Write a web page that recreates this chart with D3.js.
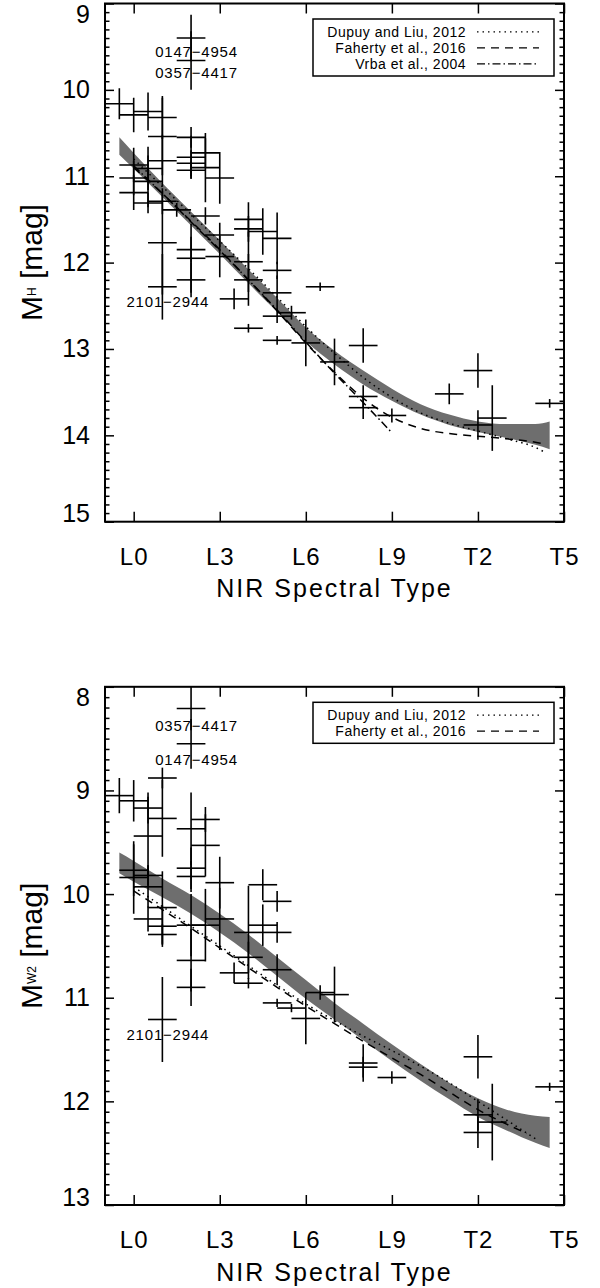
<!DOCTYPE html>
<html>
<head>
<meta charset="utf-8">
<script src="https://cdn.jsdelivr.net/npm/d3@7"></script>
<style>
  html, body { margin: 0; padding: 0; background: #fff; overflow: hidden; }
  svg { display: block; }
  text { font-family: "Liberation Sans", Arial, sans-serif; fill: #000; }
</style>
</head>
<body>
<svg id="chart" width="600" height="1288"></svg>
<script>
// spectral type axis: L0 = 0 ... T5 = 15
const sptTicks = [0, 3, 6, 9, 12, 15]
const sptTickLabels = ['L0', 'L3', 'L6', 'L9', 'T2', 'T5']

// ---- top panel: M_H ----
// [spt, mag, spt error, mag error]
const hPoints = [
  [2.0, 9.40, 0.5, 0.27], [2.0, 9.66, 0.5, 0.34],
  [-0.5, 10.16, 0.5, 0.18], [0.0, 10.29, 0.5, 0.20], [0.5, 10.25, 0.5, 0.22],
  [1.0, 10.32, 0.5, 0.25], [2.0, 10.55, 0.5, 0.12], [2.0, 10.78, 0.5, 0.25],
  [2.0, 10.85, 0.5, 0.15], [2.0, 10.93, 0.5, 0.10], [2.5, 10.73, 0.5, 0.17],
  [2.5, 10.90, 0.5, 0.40], [3.0, 11.02, 0.5, 0.30], [1.0, 10.54, 0.5, 0.45],
  [1.0, 10.82, 0.5, 0.30], [0.0, 10.87, 0.5, 0.20], [0.5, 10.91, 0.5, 0.25],
  [0.0, 11.02, 0.5, 0.20], [0.5, 11.06, 0.5, 0.30], [0.0, 11.19, 0.5, 0.20],
  [1.0, 11.29, 0.5, 0.15], [0.5, 11.31, 0.5, 0.12], [1.5, 11.39, 0.5, 0.08],
  [2.5, 11.46, 0.5, 0.10], [1.0, 11.77, 0.5, 0.60], [1.0, 12.28, 0.5, 0.38],
  [2.0, 11.85, 0.5, 0.15], [2.0, 11.95, 0.5, 0.40], [2.0, 12.20, 0.5, 0.20],
  [3.0, 11.68, 0.5, 0.14], [3.0, 11.93, 0.5, 0.24], [3.5, 12.42, 0.5, 0.12],
  [4.0, 12.76, 0.5, 0.05], [4.0, 11.50, 0.5, 0.20], [4.0, 11.61, 0.5, 0.15],
  [4.5, 11.64, 0.5, 0.27], [5.0, 11.72, 0.5, 0.30], [4.0, 11.99, 0.5, 0.35],
  [5.0, 12.09, 0.5, 0.10], [4.0, 12.20, 0.5, 0.30], [5.0, 12.35, 0.5, 0.20],
  [5.0, 12.62, 0.5, 0.08], [5.5, 12.58, 0.5, 0.08], [5.0, 12.90, 0.5, 0.05],
  [6.0, 12.93, 0.5, 0.27], [6.5, 12.28, 0.5, 0.05], [7.0, 13.15, 0.5, 0.27],
  [8.0, 12.96, 0.5, 0.20], [8.0, 13.55, 0.5, 0.13], [8.0, 13.68, 0.5, 0.13],
  [9.0, 13.77, 0.5, 0.08], [11.0, 13.52, 0.5, 0.12], [12.0, 13.25, 0.5, 0.20],
  [12.0, 13.88, 0.5, 0.17], [12.5, 13.80, 0.5, 0.38], [14.5, 13.63, 0.5, 0.05]
]
const hNames = [
  { name: '0147−4954', spt: 2.19, mag: 9.56 },
  { name: '0357−4417', spt: 2.19, mag: 9.80 },
  { name: '2101−2944', spt: 1.19, mag: 12.45 }
]
const fitSpt = [-0.5, 0, 1, 2, 3, 4, 5, 6, 7, 8, 9, 10, 11, 12, 13, 14, 14.5]
const hFitBright = [10.55, 10.73, 11.08, 11.41, 11.74, 12.08, 12.41, 12.75, 13.02, 13.25, 13.46, 13.64, 13.76, 13.84, 13.87, 13.87, 13.84]
const hFitFaint = [10.75, 10.91, 11.24, 11.57, 11.90, 12.24, 12.57, 12.91, 13.18, 13.41, 13.60, 13.76, 13.88, 13.96, 14.03, 14.11, 14.16]
const hDupuySpt = [0, 1, 2, 3, 4, 5, 6, 7, 8, 9, 10, 11, 12, 13, 14, 14.3]
const hDupuyMag = [10.80, 11.12, 11.44, 11.75, 12.07, 12.40, 12.74, 13.05, 13.33, 13.56, 13.74, 13.86, 13.95, 14.04, 14.14, 14.19]
const hFahertySpt = [0, 1, 2, 3, 4, 5, 6, 7, 8, 9, 10, 11, 12, 13, 14, 14.3]
const hFahertyMag = [10.90, 11.20, 11.52, 11.85, 12.20, 12.56, 12.93, 13.27, 13.57, 13.79, 13.92, 13.98, 14.01, 14.04, 14.08, 14.10]
const hVrbaSpt = [0, 1, 2, 3, 4, 5, 6, 7, 8, 9]
const hVrbaMag = [10.88, 11.20, 11.53, 11.86, 12.20, 12.55, 12.92, 13.28, 13.62, 13.97]

// ---- bottom panel: M_W2 ----
const w2Points = [
  [2.0, 8.21, 0.5, 0.21], [2.0, 8.55, 0.5, 0.24],
  [-0.5, 9.05, 0.5, 0.17], [0.0, 9.10, 0.5, 0.20], [0.5, 9.17, 0.5, 0.15],
  [1.0, 8.88, 0.5, 0.10], [1.0, 9.27, 0.5, 0.37], [0.5, 9.44, 0.5, 0.38],
  [2.0, 9.37, 0.5, 0.35], [2.5, 9.28, 0.5, 0.12], [2.5, 9.53, 0.5, 0.30],
  [2.0, 9.75, 0.5, 0.20], [2.0, 9.83, 0.5, 0.15], [3.0, 9.89, 0.5, 0.25],
  [3.0, 10.24, 0.5, 0.30], [2.5, 10.30, 0.5, 0.35], [0.0, 9.77, 0.5, 0.25],
  [0.0, 9.84, 0.5, 0.35], [0.5, 9.82, 0.5, 0.10], [0.5, 9.93, 0.5, 0.20],
  [0.5, 10.24, 0.5, 0.12], [1.0, 10.13, 0.5, 0.35], [1.0, 10.31, 0.5, 0.20],
  [1.0, 10.39, 0.5, 0.10], [2.0, 10.30, 0.5, 0.30], [4.0, 10.37, 0.5, 0.45],
  [4.5, 9.91, 0.5, 0.15], [5.0, 10.07, 0.5, 0.10], [4.5, 10.30, 0.5, 0.20],
  [5.0, 10.37, 0.5, 0.10], [1.0, 11.21, 0.5, 0.41], [2.0, 10.64, 0.5, 0.30],
  [2.0, 10.90, 0.5, 0.18], [3.5, 10.76, 0.5, 0.10], [4.0, 10.86, 0.5, 0.05],
  [4.0, 10.61, 0.5, 0.15], [5.0, 10.73, 0.5, 0.15], [5.0, 11.05, 0.5, 0.04],
  [5.5, 11.10, 0.5, 0.04], [6.0, 11.20, 0.5, 0.25], [6.5, 10.95, 0.5, 0.07],
  [7.0, 10.97, 0.5, 0.27], [8.0, 11.63, 0.5, 0.18], [8.0, 11.67, 0.5, 0.10],
  [9.0, 11.77, 0.5, 0.06], [12.0, 11.57, 0.5, 0.21], [12.0, 12.13, 0.5, 0.15],
  [12.0, 12.30, 0.5, 0.15], [12.5, 12.20, 0.5, 0.37], [14.5, 11.86, 0.5, 0.04]
]
const w2Names = [
  { name: '0357−4417', spt: 2.19, mag: 8.37 },
  { name: '0147−4954', spt: 2.19, mag: 8.70 },
  { name: '2101−2944', spt: 1.19, mag: 11.36 }
]
const w2FitBright = [9.60, 9.68, 9.85, 10.01, 10.19, 10.39, 10.61, 10.83, 11.05, 11.25, 11.45, 11.64, 11.82, 11.97, 12.08, 12.14, 12.15]
const w2FitFaint = [9.80, 9.88, 10.03, 10.19, 10.37, 10.57, 10.79, 11.01, 11.21, 11.41, 11.61, 11.80, 11.98, 12.15, 12.28, 12.40, 12.45]
const w2DupuySpt = [0, 1, 2, 3, 4, 5, 6, 7, 8, 9, 10, 11, 12, 13, 14]
const w2DupuyMag = [9.93, 10.12, 10.31, 10.50, 10.69, 10.88, 11.06, 11.22, 11.37, 11.51, 11.66, 11.82, 12.00, 12.18, 12.36]
const w2FahertySpt = [0, 1, 2, 3, 4, 5, 6, 7, 8, 9, 10, 11, 12, 13, 13.7]
const w2FahertyMag = [9.97, 10.15, 10.33, 10.52, 10.71, 10.90, 11.08, 11.25, 11.42, 11.58, 11.74, 11.91, 12.08, 12.22, 12.31]

// line styles
const dotted = '1.5,4'
const dashed = '8,6'
const dashDot = '8,3,1.5,3'

const svg = d3.select('#chart')

drawPanel({
  id: 'h',
  top: 3.5, bottom: 521.7, yDomain: [9, 15],
  points: hPoints, names: hNames,
  bright: hFitBright, faint: hFitFaint,
  curves: [
    { label: 'Dupuy and Liu, 2012', spt: hDupuySpt, mag: hDupuyMag, dash: dotted },
    { label: 'Faherty et al., 2016', spt: hFahertySpt, mag: hFahertyMag, dash: dashed },
    { label: 'Vrba et al., 2004', spt: hVrbaSpt, mag: hVrbaMag, dash: dashDot }
  ],
  sub: 'H'
})

drawPanel({
  id: 'w2',
  top: 686.8, bottom: 1205, yDomain: [8, 13],
  points: w2Points, names: w2Names,
  bright: w2FitBright, faint: w2FitFaint,
  curves: [
    { label: 'Dupuy and Liu, 2012', spt: w2DupuySpt, mag: w2DupuyMag, dash: dotted },
    { label: 'Faherty et al., 2016', spt: w2FahertySpt, mag: w2FahertyMag, dash: dashed }
  ],
  sub: 'W2'
})

function drawPanel(cfg) {
  const { id, top, bottom, yDomain, points, names, bright, faint, curves, sub } = cfg
  const left = 105
  const right = 564

  const x = d3.scaleLinear([-1, 15], [left, right])
  const y = d3.scaleLinear(yDomain, [top, bottom])

  const g = svg.append('g').attr('id', 'panel-' + id)

  // clip for data
  g.append('clipPath')
    .attr('id', 'clip-' + id)
    .append('rect')
    .attr('x', left).attr('y', top)
    .attr('width', right - left).attr('height', bottom - top)

  const plot = g.append('g').attr('clip-path', `url(#clip-${id})`)

  // fit with uncertainty band
  const area = d3.area()
    .x((d, i) => x(fitSpt[i]))
    .y0((d, i) => y(bright[i]))
    .y1((d, i) => y(faint[i]))
    .curve(d3.curveMonotoneX)
  plot.append('path')
    .datum(fitSpt)
    .attr('d', area)
    .attr('fill', '#6e6e6e')

  // literature relations
  curves.forEach((c) => {
    const line = d3.line()
      .x((d, i) => x(c.spt[i]))
      .y((d, i) => y(c.mag[i]))
      .curve(d3.curveMonotoneX)
    plot.append('path')
      .datum(c.spt)
      .attr('d', line)
      .attr('fill', 'none')
      .attr('stroke', '#000')
      .attr('stroke-width', 1.5)
      .attr('stroke-dasharray', c.dash)
  })

  // data points with error bars
  const crosses = plot.append('g')
    .attr('stroke', '#000')
    .attr('stroke-width', 1.6)
    .selectAll('g')
    .data(points)
    .join('g')
  crosses.append('line')
    .attr('x1', (d) => x(d[0] - d[2]))
    .attr('x2', (d) => x(d[0] + d[2]))
    .attr('y1', (d) => y(d[1]))
    .attr('y2', (d) => y(d[1]))
  crosses.append('line')
    .attr('x1', (d) => x(d[0]))
    .attr('x2', (d) => x(d[0]))
    .attr('y1', (d) => y(d[1] - d[3]))
    .attr('y2', (d) => y(d[1] + d[3]))

  // object names
  g.append('g')
    .selectAll('text')
    .data(names)
    .join('text')
    .attr('x', (d) => x(d.spt))
    .attr('y', (d) => y(d.mag))
    .attr('dy', '0.36em')
    .attr('text-anchor', 'middle')
    .style('font-size', '15px')
    .style('letter-spacing', '0.8px')
    .text((d) => d.name)

  // axes
  const yMajor = d3.range(yDomain[0], yDomain[1] + 0.001, 1)
  const yMinor = d3.range(yDomain[0] * 10, yDomain[1] * 10 + 0.1, 1)
    .map((v) => v / 10)
    .filter((v) => Math.abs(v - Math.round(v)) > 0.01)

  const axes = g.append('g').attr('stroke-width', 1.5)

  const yl = axes.append('g')
    .attr('transform', `translate(${left},0)`)
    .call(d3.axisLeft(y).tickValues(yMajor).tickSize(-9).tickPadding(15).tickFormat(d3.format('d')))
  yl.selectAll('.tick text')
    .style('font-size', '25px')
    .attr('transform', (d, i) => i === 0 ? 'translate(0,11)' : (i === yMajor.length - 1 ? 'translate(0,-8)' : null))

  axes.append('g')
    .attr('transform', `translate(${left},0)`)
    .call(d3.axisLeft(y).tickValues(yMinor).tickSize(-4.5).tickFormat(''))
  axes.append('g')
    .attr('transform', `translate(${right},0)`)
    .call(d3.axisRight(y).tickValues(yMajor).tickSize(-9).tickFormat(''))
  axes.append('g')
    .attr('transform', `translate(${right},0)`)
    .call(d3.axisRight(y).tickValues(yMinor).tickSize(-4.5).tickFormat(''))

  const xb = axes.append('g')
    .attr('transform', `translate(0,${bottom})`)
    .call(d3.axisBottom(x).tickValues(sptTicks).tickSize(-10).tickPadding(26)
      .tickFormat((d, i) => sptTickLabels[i]))
  xb.selectAll('.tick text').style('font-size', '24px').style('letter-spacing', '1px')
  axes.append('g')
    .attr('transform', `translate(0,${top})`)
    .call(d3.axisTop(x).tickValues(sptTicks).tickSize(-10).tickFormat(''))

  axes.selectAll('.domain').remove()
  axes.selectAll('.tick line').attr('stroke', '#000')

  // frame
  g.append('rect')
    .attr('x', left).attr('y', top)
    .attr('width', right - left).attr('height', bottom - top)
    .attr('fill', 'none')
    .attr('stroke', '#000')
    .attr('stroke-width', 2)

  // axis titles
  g.append('text')
    .attr('x', (left + right) / 2)
    .attr('y', bottom + 75.5)
    .attr('text-anchor', 'middle')
    .style('font-size', '25px')
    .style('letter-spacing', '2px')
    .text('NIR Spectral Type')

  const yt = g.append('text')
    .attr('transform', `translate(42,${(top + bottom) / 2}) rotate(-90)`)
    .attr('text-anchor', 'middle')
    .style('font-size', '30px')
  yt.append('tspan').text('M')
  yt.append('tspan').attr('dy', -6).style('font-size', '12px').text(sub)
  yt.append('tspan').attr('dy', 6).text(' [mag]')

  // legend
  const boxTop = top + 15.5
  const legend = g.append('g').attr('id', 'legend-' + id)
  legend.append('rect')
    .attr('x', 313).attr('y', boxTop)
    .attr('width', 241).attr('height', 9 + 16 * curves.length)
    .attr('fill', '#fff')
    .attr('stroke', '#000')
    .attr('stroke-width', 1.5)
  curves.forEach((c, i) => {
    const ry = boxTop + 12.8 + 16 * i
    legend.append('text')
      .attr('x', 466).attr('y', ry)
      .attr('dy', '0.36em')
      .attr('text-anchor', 'end')
      .style('font-size', '14px')
      .style('letter-spacing', '0.5px')
      .text(c.label)
    legend.append('line')
      .attr('x1', 477).attr('x2', 539)
      .attr('y1', ry).attr('y2', ry)
      .attr('stroke', '#000')
      .attr('stroke-width', 1.3)
      .attr('stroke-dasharray', c.dash)
  })
}
</script>
</body>
</html>
